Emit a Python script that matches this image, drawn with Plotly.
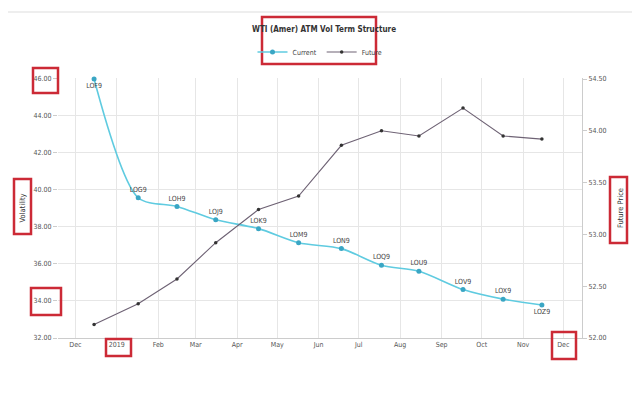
import plotly.graph_objects as go

# ---- data ----
contracts = ["LOF9", "LOG9", "LOH9", "LOJ9", "LOK9", "LOM9", "LON9", "LOQ9", "LOU9", "LOV9", "LOX9", "LOZ9"]
expiry_dates = ["2018-12-15", "2019-01-17", "2019-02-15", "2019-03-16", "2019-04-17", "2019-05-17",
                "2019-06-18", "2019-07-18", "2019-08-15", "2019-09-17", "2019-10-17", "2019-11-15"]
current_vol = [46.0, 39.58, 39.11, 38.39, 37.91, 37.15, 36.83, 35.93, 35.61, 34.62, 34.10, 33.78]
future_price = [52.13, 52.33, 52.57, 52.92, 53.24, 53.37, 53.86, 54.00, 53.95, 54.22, 53.95, 53.92]

month_ticks = ["2018-12-01", "2019-01-01", "2019-02-01", "2019-03-01", "2019-04-01", "2019-05-01",
               "2019-06-01", "2019-07-01", "2019-08-01", "2019-09-01", "2019-10-01", "2019-11-01", "2019-12-01"]
month_labels = ["Dec", "2019", "Feb", "Mar", "Apr", "May", "Jun", "Jul", "Aug", "Sep", "Oct", "Nov", "Dec"]

vol_ticks = [32, 34, 36, 38, 40, 42, 44, 46]
price_ticks = [52.0, 52.5, 53.0, 53.5, 54.0, 54.5]

FONT = "DejaVu Sans Condensed, Liberation Sans Narrow, Arial Narrow, sans-serif"
OFF = 8  # page body margin
W, H = 640 - OFF, 399 - OFF
L, R, T, B = 58 - OFF, 582 - OFF, 78 - OFF, 338 - OFF

text_pos = ["bottom center" if i in (0, len(contracts) - 1) else "top center" for i in range(len(contracts))]

fig = go.Figure()
fig.add_trace(go.Scatter(
    x=expiry_dates, y=current_vol, name="Current", mode="lines+markers+text",
    text=contracts, textposition=text_pos,
    textfont=dict(family=FONT, size=7, color="#444444"),
    line=dict(color="#5fcbe0", width=1.6, shape="spline", smoothing=0.8),
    marker=dict(color="#3aa6c4", size=5), yaxis="y", cliponaxis=False,
))
fig.add_trace(go.Scatter(
    x=expiry_dates, y=future_price, name="Future", mode="lines+markers",
    line=dict(color="#6e6274", width=1.1),
    marker=dict(color="#333333", size=3.5), yaxis="y2", cliponaxis=False,
))


def px_box(x0, y0, x1, y1):
    # reference-image pixel coordinates -> paper coordinates
    x0, x1, y0, y1 = x0 - OFF, x1 - OFF, y0 - OFF, y1 - OFF
    return dict(type="rect", xref="paper", yref="paper",
                x0=(x0 - L) / (R - L), x1=(x1 - L) / (R - L),
                y0=(B - y0) / (B - T), y1=(B - y1) / (B - T),
                line=dict(color="#cc2a36", width=2.5), fillcolor="rgba(0,0,0,0)", layer="above")


shapes = [
    px_box(262, 17, 376, 64),     # title + legend
    px_box(33, 68, 58, 93),       # top left tick
    px_box(14, 179, 31, 234),     # Volatility
    px_box(31, 288, 61, 315),     # 34.00
    px_box(106, 339, 131, 356),   # 2019
    px_box(552, 332, 576, 359),   # Dec
    px_box(610, 177, 627, 243),   # Future Price
    dict(type="line", xref="paper", yref="paper", x0=-L / (R - L), x1=(W - L) / (R - L),
         y0=(B - (12 - OFF)) / (B - T), y1=(B - (12 - OFF)) / (B - T), line=dict(color="#dddddd", width=1)),
]

fig.update_layout(
    width=W, height=H, margin=dict(l=L, r=W - R, t=T, b=H - B, autoexpand=False),
    paper_bgcolor="white", plot_bgcolor="white",
    font=dict(family=FONT, size=7, color="#555555"),
    title=dict(text="<b>WTI (Amer) ATM Vol Term Structure</b>", x=0.5, xanchor="center",
               y=1 - (29 - OFF) / H, yanchor="middle", font=dict(family=FONT, size=8, color="#333333"),
               automargin=False),
    showlegend=True,
    legend=dict(orientation="h", x=0.5, xanchor="center", y=(B - (52 - OFF)) / (B - T), yanchor="middle",
                font=dict(family=FONT, size=7, color="#444444"), tracegroupgap=0,
                bgcolor="rgba(0,0,0,0)"),
    xaxis=dict(type="date", range=["2018-11-18", "2019-12-15"], tickvals=month_ticks, ticktext=month_labels,
               showgrid=True, gridcolor="#e6e6e6", gridwidth=1, showline=True, linecolor="#cccccc",
               ticks="", tickfont=dict(family=FONT, size=7, color="#555555"), zeroline=False,
               automargin=False),
    yaxis=dict(range=[32, 46.05], tickvals=vol_ticks, ticktext=[f"{v:.2f}" for v in vol_ticks],
               showgrid=True, gridcolor="#e6e6e6", showline=False, ticks="outside", ticklen=4,
               tickcolor="#cccccc", zeroline=False, automargin=False,
               title=dict(text="Volatility", font=dict(family=FONT, size=7.5, color="#333333"), standoff=6),
               tickfont=dict(family=FONT, size=7, color="#555555")),
    yaxis2=dict(range=[52, 54.51], tickvals=price_ticks, ticktext=[f"{v:.2f}" for v in price_ticks],
                overlaying="y", side="right", showgrid=False, showline=True, linecolor="#cccccc",
                ticks="outside", ticklen=4, tickcolor="#cccccc", zeroline=False, automargin=False,
                title=dict(text="Future Price", font=dict(family=FONT, size=7.5, color="#333333"), standoff=12),
                tickfont=dict(family=FONT, size=7, color="#555555")),
    shapes=shapes,
)

fig.write_html("out.html")
